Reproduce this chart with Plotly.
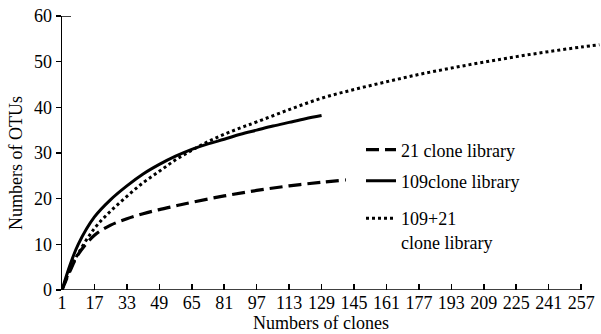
import plotly.graph_objects as go

# ---- data ----
x_ticks = [1, 17, 33, 49, 65, 81, 97, 113, 129, 145, 161, 177, 193, 209, 225, 241, 257]
y_ticks = [0, 10, 20, 30, 40, 50, 60]

x_21 = [1, 5, 9, 17, 25, 33, 41, 49, 57, 65, 81, 97, 113, 129, 141]
y_21 = [0, 4.2, 7.8, 12.0, 14.2, 15.6, 16.7, 17.6, 18.4, 19.2, 20.6, 21.8, 22.8, 23.6, 24.1]

x_109 = [1, 5, 9, 17, 25, 33, 41, 49, 57, 65, 73, 81, 89, 97, 105, 113, 121, 129]
y_109 = [0, 5.5, 10.0, 16.0, 19.8, 22.8, 25.4, 27.5, 29.3, 30.8, 32.0, 33.0, 34.1, 35.0, 35.9, 36.7, 37.5, 38.2]

x_all = [1, 5, 9, 17, 25, 33, 41, 49, 57, 65, 73, 81, 89, 97, 113, 129, 145, 161, 177, 193, 209, 225, 241, 257, 266]
y_all = [0, 4.5, 8.0, 13.5, 17.3, 20.5, 23.5, 26.0, 28.5, 30.6, 32.5, 34.1, 35.5, 36.8, 39.5, 42.0, 43.9, 45.6, 47.2, 48.6, 49.9, 51.1, 52.2, 53.2, 53.7]

names = ["21 clone library", "109clone library", "109+21<br>clone library"]

FONT = '"Liberation Serif", "Times New Roman", "DejaVu Serif", serif'
W, H = 601, 334

fig = go.Figure()
fig.add_trace(go.Scatter(x=x_21, y=y_21, mode="lines", name=names[0], legend="legend",
                         line=dict(color="black", width=3.2, dash="13px,6px", shape="spline")))
fig.add_trace(go.Scatter(x=x_109, y=y_109, mode="lines", name=names[1], legend="legend2",
                         line=dict(color="black", width=3, shape="spline")))
fig.add_trace(go.Scatter(x=x_all, y=y_all, mode="lines", name=names[2], legend="legend3",
                         line=dict(color="black", width=3, dash="3px,3px", shape="spline")))

leg_common = dict(xref="container", yref="container", xanchor="left", yanchor="middle",
                  bgcolor="rgba(0,0,0,0)", borderwidth=0, font=dict(family=FONT, size=18, color="black"),
                  valign="top", itemclick=False, itemdoubleclick=False)

fig.update_layout(
    width=W, height=H,
    margin=dict(l=62, r=0, t=16, b=44, autoexpand=False),
    paper_bgcolor="white", plot_bgcolor="white",
    font=dict(family=FONT, size=18, color="black"),
    showlegend=True,
    legend=dict(x=361 / W, y=1 - 150 / H, **leg_common),
    legend2=dict(x=361 / W, y=1 - 181 / H, **leg_common),
    legend3=dict(x=361 / W, y=1 - 230 / H, **leg_common),
    xaxis=dict(range=[1, 266.8], tickvals=x_ticks, ticktext=[str(v) for v in x_ticks],
               ticks="inside", ticklen=6, tickwidth=1.5, tickcolor="black", tickangle=0,
               showline=False, showgrid=False, zeroline=False, automargin=False,
               tickfont=dict(family=FONT, size=18, color="black")),
    yaxis=dict(range=[0, 60], tickvals=y_ticks, ticks="outside", ticklen=5, tickwidth=1.5,
               tickcolor="black", showline=True, linecolor="black", linewidth=1.5,
               showgrid=False, zeroline=False, automargin=False,
               tickfont=dict(family=FONT, size=18, color="black")),
    shapes=[
        dict(type="line", xref="x", yref="y", x0=1, x1=257, y0=0, y1=0,
             line=dict(color="black", width=1.5)),
        dict(type="line", xref="paper", yref="y", x0=0, x1=9 / 539, y0=60, y1=60,
             line=dict(color="black", width=1.5)),
    ],
    annotations=[
        dict(text="Numbers of clones", xref="paper", yref="paper", x=(321 - 62) / 539, y=-(323 - 290) / 274,
             xanchor="center", yanchor="middle", showarrow=False, font=dict(family=FONT, size=18)),
        dict(text="Numbers of OTUs", xref="paper", yref="paper", x=-(62 - 16) / 539, y=(290 - 163) / 274,
             xanchor="center", yanchor="middle", textangle=-90, showarrow=False, font=dict(family=FONT, size=18)),
    ],
)

fig.write_html("out.html", config={"displayModeBar": False, "staticPlot": True},
               post_script="document.body.style.margin='0';document.body.style.padding='0';")
